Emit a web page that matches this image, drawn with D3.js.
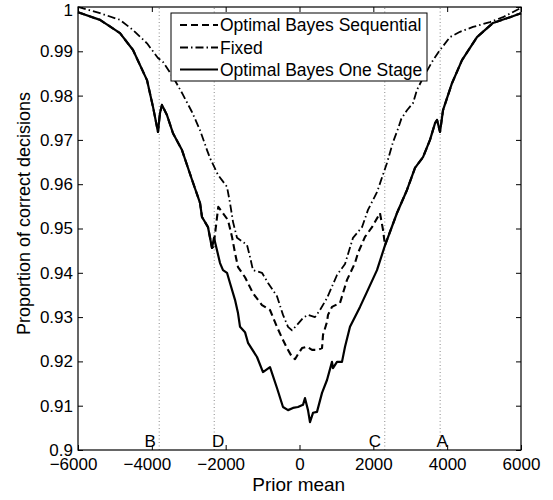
<!DOCTYPE html>
<html>
<head>
<meta charset="utf-8">
<script src="https://cdn.jsdelivr.net/npm/d3@7/dist/d3.min.js"></script>
<style>
  html, body { margin: 0; padding: 0; background: #fff; }
  svg { display: block; }
  text { font-family: "Liberation Sans", Arial, Helvetica, sans-serif; fill: #000; }
</style>
</head>
<body>
<svg id="chart" width="553" height="500"></svg>
<script>
// ---------------- data ----------------
const xTicks = [-6000, -4000, -2000, 0, 2000, 4000, 6000];
const yTicks = [0.9, 0.91, 0.92, 0.93, 0.94, 0.95, 0.96, 0.97, 0.98, 0.99, 1];

const seriesNames = ["Optimal Bayes Sequential", "Fixed", "Optimal Bayes One Stage"];

// Optimal Bayes One Stage (solid)
const oneStageX = [-6000, -5404, -4862, -4510, -4131, -3967, -3834, -3780, -3726, -3590, -3427, -3183, -2912, -2695, -2641, -2478, -2370, -2316, -2235, -2153, -2072, -1964, -1883, -1747, -1666, -1611, -1476, -1395, -1151, -989, -799, -610, -447, -311, -176, -41, 95, 149, 230, 284, 366, 474, 610, 745, 880, 907, 1016, 1151, 1233, 1368, 1639, 1828, 2099, 2316, 2641, 2912, 3129, 3346, 3535, 3672, 3726, 3807, 3888, 4131, 4402, 4808, 5242, 5702, 6000];
const oneStageY = [0.9988, 0.9971, 0.9941, 0.9903, 0.9835, 0.9774, 0.9718, 0.9760, 0.9779, 0.9756, 0.9715, 0.9677, 0.9610, 0.9558, 0.9526, 0.9503, 0.9456, 0.9479, 0.9451, 0.9422, 0.9406, 0.9400, 0.9377, 0.9339, 0.9309, 0.9278, 0.9266, 0.9242, 0.9210, 0.9176, 0.9187, 0.9140, 0.9097, 0.9090, 0.9095, 0.9097, 0.9102, 0.9117, 0.9090, 0.9063, 0.9084, 0.9086, 0.9129, 0.9158, 0.9199, 0.9185, 0.9199, 0.9199, 0.9233, 0.9278, 0.9323, 0.9357, 0.9406, 0.9462, 0.9535, 0.9587, 0.9637, 0.9661, 0.9700, 0.9738, 0.9745, 0.9718, 0.9767, 0.9828, 0.9880, 0.9932, 0.9964, 0.9977, 0.9986];

// Fixed (dash-dot)
const fixedX = [-6000, -5404, -4862, -4510, -4131, -3834, -3699, -3427, -3183, -2912, -2695, -2505, -2424, -2208, -1964, -1883, -1801, -1693, -1422, -1341, -1260, -1016, -853, -610, -447, -311, -203, -68, 95, 230, 420, 555, 745, 1016, 1233, 1449, 1693, 1855, 2099, 2370, 2533, 2668, 2760, 2912, 3075, 3183, 3346, 3617, 3807, 4077, 4348, 4700, 5160, 5512, 6000];
const fixedY = [1.0000, 0.9986, 0.9971, 0.9948, 0.9918, 0.9885, 0.9876, 0.9842, 0.9806, 0.9763, 0.9722, 0.9677, 0.9659, 0.9621, 0.9594, 0.9558, 0.9515, 0.9479, 0.9463, 0.9436, 0.9406, 0.9400, 0.9377, 0.9347, 0.9305, 0.9278, 0.9270, 0.9282, 0.9298, 0.9305, 0.9300, 0.9316, 0.9343, 0.9395, 0.9420, 0.9479, 0.9503, 0.9542, 0.9582, 0.9648, 0.9695, 0.9725, 0.9748, 0.9767, 0.9783, 0.9813, 0.9840, 0.9880, 0.9903, 0.9932, 0.9944, 0.9955, 0.9966, 0.9977, 0.9998];

// Optimal Bayes Sequential (dashed) - coincides with One Stage outside D..C
const seqX = [-6000, -5404, -4862, -4510, -4131, -3967, -3834, -3780, -3726, -3590, -3427, -3183, -2912, -2695, -2641, -2478, -2370, -2330, -2200, -1937, -1828, -1747, -1666, -1476, -1260, -1016, -799, -610, -474, -339, -203, -122, -50, 68, 203, 339, 501, 610, 637, 745, 772, 880, 1097, 1178, 1287, 1503, 1585, 1774, 1964, 2180, 2262, 2316, 2641, 2912, 3129, 3346, 3535, 3672, 3726, 3807, 3888, 4131, 4402, 4808, 5242, 5702, 6000];
const seqY = [0.9988, 0.9971, 0.9941, 0.9903, 0.9835, 0.9774, 0.9718, 0.9760, 0.9779, 0.9756, 0.9715, 0.9677, 0.9610, 0.9558, 0.9526, 0.9503, 0.9456, 0.9459, 0.9549, 0.9519, 0.9481, 0.9445, 0.9413, 0.9390, 0.9354, 0.9327, 0.9316, 0.9278, 0.9253, 0.9230, 0.9210, 0.9205, 0.9215, 0.9230, 0.9233, 0.9226, 0.9226, 0.9230, 0.9260, 0.9289, 0.9305, 0.9323, 0.9332, 0.9354, 0.9384, 0.9422, 0.9445, 0.9481, 0.9503, 0.9535, 0.9497, 0.9462, 0.9535, 0.9587, 0.9637, 0.9661, 0.9700, 0.9738, 0.9745, 0.9718, 0.9767, 0.9828, 0.9880, 0.9932, 0.9964, 0.9977, 0.9986];

// Reference prior means (vertical dotted lines)
const markerNames = ["B", "D", "C", "A"];
const markerX = [-3800, -2310, 2310, 3810];

// ---------------- layout ----------------
(function draw() {
const svg = d3.select("#chart");
const pL = 78, pR = 521, pT = 7, pB = 450;

const x = d3.scaleLinear().domain([-6000, 6000]).range([pL, pR]);
const y = d3.scaleLinear().domain([0.9, 1]).range([pB, pT]);

const FONT = 17;

// vertical dotted lines
svg.append("g").selectAll("line").data(markerX).join("line")
  .attr("x1", d => x(d)).attr("x2", d => x(d))
  .attr("y1", y(0.9)).attr("y2", y(1))
  .attr("stroke", "#8a8a8a").attr("stroke-width", 1)
  .attr("stroke-dasharray", "1,2.5");

// marker labels
const labelShift = {B: -9, D: 4, C: -10, A: 2};
svg.append("g").selectAll("text").data(markerNames).join("text")
  .attr("x", (d, i) => x(markerX[i]) + labelShift[d])
  .attr("y", pB - 3)
  .attr("text-anchor", "middle")
  .style("font-size", FONT + "px")
  .text(d => d);

// curves
const line = d3.line().x(d => x(d[0])).y(d => y(d[1]));
const zip = (a, b) => a.map((v, i) => [v, b[i]]);

const styles = [
  {dash: "7,4", width: 2.1},        // sequential
  {dash: "8,3,1.5,3", width: 1.8},  // fixed
  {dash: null, width: 2.2}          // one stage
];

const seriesData = [zip(seqX, seqY), zip(fixedX, fixedY), zip(oneStageX, oneStageY)];

[1, 2, 0].forEach(i => {
  svg.append("path")
    .datum(seriesData[i])
    .attr("d", line)
    .attr("fill", "none")
    .attr("stroke", "#000")
    .attr("stroke-width", styles[i].width)
    .attr("stroke-linejoin", "round")
    .attr("stroke-dasharray", styles[i].dash);
});

// axes
const gB = svg.append("g").attr("transform", `translate(0,${pB})`)
  .call(d3.axisBottom(x).tickValues(xTicks).tickFormat(d3.format("d"))
    .tickSizeInner(-5).tickSizeOuter(0).tickPadding(8));
gB.selectAll(".tick text").attr("dx", d => d < 0 ? -5 : 0);
const gL = svg.append("g").attr("transform", `translate(${pL},0)`)
  .call(d3.axisLeft(y).tickValues(yTicks).tickFormat(d3.format("~g")).tickSizeInner(-5).tickSizeOuter(0).tickPadding(5));
gL.selectAll(".tick text").filter(d => d === 1).attr("dy", "0.5em");
const gT = svg.append("g").attr("transform", `translate(0,${pT})`)
  .call(d3.axisTop(x).tickValues(xTicks).tickSizeInner(-5).tickSizeOuter(0).tickFormat(""));
const gR = svg.append("g").attr("transform", `translate(${pR},0)`)
  .call(d3.axisRight(y).tickValues(yTicks).tickSizeInner(-5).tickSizeOuter(0).tickFormat(""));

[gB, gL, gT, gR].forEach(g => {
  g.select(".domain").remove();
  g.selectAll(".tick line").attr("stroke", "#000").attr("stroke-width", 1);
  g.selectAll("text").style("font-size", FONT + "px")
    .style("font-family", '"Liberation Sans", Arial, Helvetica, sans-serif').attr("fill", "#000");
});

// frame
svg.append("rect")
  .attr("x", pL).attr("y", pT)
  .attr("width", pR - pL).attr("height", pB - pT)
  .attr("fill", "none").attr("stroke", "#000").attr("stroke-width", 1.2);

// axis labels
svg.append("text")
  .attr("x", 298.7).attr("y", 491)
  .attr("text-anchor", "middle")
  .style("font-size", "19px")
  .text("Prior mean");

svg.append("text")
  .attr("transform", `translate(30,213.5) rotate(-90)`)
  .attr("text-anchor", "middle")
  .style("font-size", "18px")
  .text("Proportion of correct decisions");

// legend
const lg = svg.append("g");
const lgX = 171, lgY = 13, lgW = 256, lgH = 68;
lg.append("rect").attr("x", lgX).attr("y", lgY).attr("width", lgW).attr("height", lgH)
  .attr("fill", "#fff").attr("stroke", "#000").attr("stroke-width", 1);
const rowY = [25, 47.5, 69.5];
seriesNames.forEach((name, i) => {
  lg.append("line")
    .attr("x1", 180).attr("x2", 218)
    .attr("y1", rowY[i]).attr("y2", rowY[i])
    .attr("stroke", "#000").attr("stroke-width", styles[i].width)
    .attr("stroke-dasharray", styles[i].dash);
  lg.append("text")
    .attr("x", 220).attr("y", rowY[i] + 6)
    .style("font-size", "17.5px")
    .text(name);
});
})();
</script>
</body>
</html>
